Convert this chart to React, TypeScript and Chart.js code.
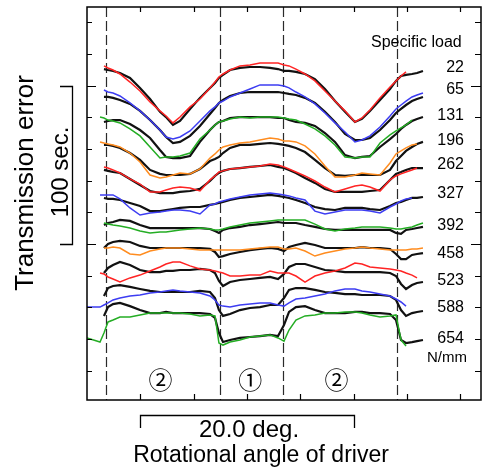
import React, { useEffect, useRef } from "react";
import { Chart, registerables } from "chart.js";

Chart.register(...registerables);

// ---------- data ----------
// rotational angle of driver (deg), common sampling grid
const angleDeg = [0.0, 1.22, 1.59, 1.97, 2.44, 3.09, 4.03, 4.97, 5.91, 6.84, 7.41, 8.06, 8.72, 9.66, 10.59, 11.53, 12.0, 12.37, 12.75, 13.41, 14.34, 15.28, 16.22, 17.16, 17.91, 18.47, 18.94, 19.59, 20.44, 21.37, 22.31, 23.25, 24.19, 25.12, 25.78, 26.53, 27.47, 28.41, 28.97, 29.44, 29.91, 30.47, 30.94, 31.5];

const specificLoads = ["22", "65", "131", "196", "262", "327", "392", "458", "523", "588", "654"];

// measured transmission error (sec, offset per load as plotted)
const measured22 = [null, null, 210.5, 209.9, 209.3, 208.0, 204.9, 198.6, 191.6, 183.5, 180.2, 175.2, 177.7, 185.3, 192.3, 198.6, 201.7, 204.9, 206.8, 209.9, 211.2, 211.8, 211.8, 211.2, 210.5, 209.3, 209.3, 208.7, 207.4, 204.2, 197.9, 190.3, 183.5, 177.1, 179.0, 184.1, 191.0, 197.9, 203.0, 206.1, 206.8, 207.4, 208.0, 209.3];
const measured65 = [null, null, 192.9, 192.9, 192.3, 191.0, 188.5, 184.1, 178.3, 172.0, 167.6, 163.8, 164.5, 168.3, 174.6, 182.1, 185.9, 189.1, 191.0, 193.5, 195.4, 196.0, 196.0, 196.0, 196.0, 195.4, 194.8, 194.1, 192.3, 189.1, 183.5, 177.1, 169.5, 165.7, 165.7, 167.0, 172.0, 178.3, 182.8, 185.3, 187.8, 190.3, 191.6, 192.9];
const measured131 = [null, null, 177.1, 177.7, 178.3, 178.3, 175.8, 172.0, 167.0, 159.4, 155.0, 154.3, 154.3, 155.6, 164.5, 172.0, 175.2, 177.1, 177.7, 179.6, 180.2, 180.2, 180.2, 180.2, 179.6, 179.6, 178.3, 177.1, 176.5, 174.6, 170.1, 164.5, 156.2, 154.3, 155.0, 155.6, 161.3, 166.3, 169.5, 172.7, 175.2, 177.7, 179.0, 180.2];
const measured196 = [null, null, 162.6, 162.6, 162.0, 160.7, 157.5, 153.1, 146.8, 144.3, 143.6, 143.6, 143.6, 144.3, 147.4, 152.4, 153.7, 155.0, 157.5, 160.7, 162.6, 162.6, 163.2, 163.8, 163.2, 162.6, 162.0, 160.7, 158.1, 153.1, 148.0, 143.6, 143.0, 143.6, 143.6, 143.6, 143.6, 146.8, 152.4, 155.6, 158.8, 161.3, 163.2, 164.5];
const measured262 = [null, null, 146.8, 146.2, 145.5, 144.9, 141.1, 137.3, 133.5, 132.2, 132.2, 132.2, 132.9, 133.5, 134.8, 139.8, 143.0, 144.9, 146.2, 147.4, 148.0, 148.7, 149.3, 149.9, 148.7, 148.0, 146.8, 144.9, 141.7, 138.6, 134.8, 132.9, 132.9, 132.9, 132.9, 133.5, 134.1, 140.5, 144.3, 145.5, 146.8, 148.0, 148.0, 148.0];
const measured327 = [null, null, 129.1, 128.5, 128.5, 127.8, 125.9, 124.0, 120.8, 120.8, 121.5, 122.1, 122.8, 123.4, 123.4, 124.7, 125.3, 125.9, 126.6, 127.8, 129.1, 129.7, 130.4, 131.0, 130.4, 129.7, 129.1, 127.8, 125.9, 123.4, 122.1, 121.5, 122.8, 122.8, 122.8, 122.1, 121.5, 124.0, 125.9, 126.6, 127.8, 129.1, 129.1, 129.7];
const measured392 = [null, null, 112.0, 113.3, 113.9, 115.2, 114.6, 112.0, 110.1, 110.1, 110.1, 110.1, 110.1, 110.1, 110.1, 109.5, 108.2, 107.0, 108.9, 110.1, 110.8, 112.0, 112.6, 113.3, 113.9, 113.3, 113.3, 113.3, 112.0, 110.8, 109.5, 108.9, 108.9, 108.9, 108.9, 108.9, 108.9, 108.9, 107.0, 106.4, 108.9, 109.5, 110.1, 110.8];
const measured458 = [null, null, 97.5, 100.1, 101.3, 102.0, 101.3, 98.8, 97.5, 97.5, 97.5, 97.5, 97.5, 97.5, 97.5, 96.9, 95.0, 91.8, 92.4, 93.7, 95.0, 96.2, 96.9, 97.5, 96.9, 95.6, 98.1, 99.4, 100.7, 99.4, 97.5, 97.5, 97.5, 97.5, 98.1, 97.5, 97.5, 96.9, 93.7, 90.5, 90.5, 93.1, 93.7, 94.3];
const measured523 = [null, null, 81.7, 84.9, 86.8, 88.7, 86.8, 83.6, 82.3, 82.3, 83.0, 83.0, 83.6, 83.6, 84.3, 83.6, 81.7, 76.7, 73.5, 76.0, 77.3, 77.9, 78.6, 79.2, 77.9, 81.1, 85.5, 87.4, 87.4, 85.5, 83.6, 83.0, 82.3, 82.3, 82.3, 82.3, 82.3, 81.7, 79.8, 74.8, 71.6, 74.1, 75.4, 76.0];
const measured588 = [null, null, 67.2, 72.2, 73.5, 74.1, 72.9, 71.6, 70.4, 69.7, 69.7, 69.7, 69.7, 69.7, 70.4, 69.7, 65.9, 58.3, 54.6, 55.8, 58.3, 59.6, 60.2, 61.5, 61.5, 65.9, 71.0, 72.2, 72.2, 71.0, 69.7, 69.1, 68.4, 68.4, 67.8, 67.8, 67.8, 67.2, 64.7, 58.3, 54.6, 56.4, 57.1, 57.7];
const measured654 = [null, null, 54.6, 60.2, 62.1, 62.8, 60.8, 58.3, 56.4, 56.4, 57.1, 56.4, 56.4, 56.4, 56.4, 55.8, 53.3, 43.8, 38.1, 39.4, 40.7, 41.3, 41.9, 42.6, 41.9, 48.9, 57.1, 60.2, 60.8, 58.3, 56.4, 56.4, 56.4, 57.1, 57.1, 56.4, 56.4, 55.8, 52.0, 39.4, 37.5, 38.1, 38.7, 39.4];

// calculated transmission error
const calculated22 = [null, null, 212.5, 211.2, 209.9, 207.4, 202.3, 196.7, 189.7, 184.1, 180.9, 176.5, 180.2, 186.6, 191.6, 198.6, 202.3, 205.5, 207.4, 209.9, 212.5, 213.1, 214.3, 214.3, 214.3, 213.1, 212.5, 210.5, 207.4, 203.0, 196.7, 190.3, 184.1, 177.1, 179.6, 184.7, 192.3, 199.2, 203.0, 206.1, 208.7, null, null, null];
const calculated65 = [null, null, 197.3, 196.0, 195.4, 193.5, 189.1, 184.1, 178.3, 172.0, 167.6, 166.3, 167.6, 171.4, 177.7, 184.1, 186.6, 189.1, 190.3, 192.9, 195.4, 197.9, 200.5, 200.5, 200.5, 199.8, 198.6, 196.0, 192.9, 188.5, 182.8, 176.5, 170.8, 164.5, 165.7, 168.3, 173.9, 180.9, 185.3, 187.8, 190.3, 192.9, 194.1, 195.4];
const calculated131 = [null, 180.2, 179.6, 178.3, 177.7, 176.5, 172.7, 168.3, 161.3, 154.3, 155.0, 155.0, 155.6, 157.5, 166.3, 172.0, 175.2, 177.1, 177.7, 179.0, 180.2, 179.6, 180.2, 180.2, 180.2, 179.6, 179.0, 178.3, 175.8, 172.7, 168.3, 162.6, 155.0, 154.3, 155.0, 155.0, 163.8, 168.9, 171.4, 173.3, 175.2, 178.3, null, null];
const calculated196 = [null, 164.5, 163.8, 163.2, 162.6, 161.3, 157.5, 151.8, 143.6, 141.7, 142.3, 143.6, 144.9, 144.3, 147.4, 154.3, 156.9, 159.4, 161.3, 162.6, 163.8, 164.5, 165.7, 167.0, 166.3, 165.1, 165.1, 164.5, 162.0, 156.9, 149.3, 142.3, 142.3, 143.6, 144.9, 144.3, 143.6, 151.2, 156.9, 158.8, 160.7, 162.6, 163.2, null];
const calculated262 = [null, null, 148.7, 148.0, 146.8, 144.9, 141.1, 137.9, 132.9, 132.9, 134.1, 135.4, 136.0, 135.4, 133.5, 140.5, 143.0, 145.5, 146.2, 147.4, 148.0, 148.7, 149.3, 150.6, 149.9, 148.7, 147.4, 145.5, 143.0, 139.8, 136.0, 132.9, 134.8, 136.7, 137.3, 136.0, 133.5, 140.5, 143.0, 144.3, 145.5, 146.8, 148.0, null];
const calculated327 = [null, 131.0, 131.0, 131.0, 131.0, 128.5, 122.8, 118.3, 119.6, 120.2, 120.8, 121.5, 121.5, 120.8, 119.0, 124.7, 125.3, 126.6, 127.2, 128.5, 129.7, 131.0, 131.6, 132.2, 131.6, 131.0, 130.4, 129.1, 127.8, 120.8, 119.0, 120.2, 121.5, 121.5, 121.5, 120.8, 119.6, 123.4, 125.3, 127.2, 128.5, 129.1, null, null];
const calculated392 = [null, null, 113.3, 112.6, 112.0, 111.4, 110.1, 108.2, 107.0, 107.6, 107.6, 108.2, 108.9, 109.5, 110.1, 109.5, 108.9, 108.9, 109.5, 110.8, 112.0, 113.3, 113.9, 114.6, 115.2, 115.2, 115.2, 115.2, 115.2, 112.6, 109.5, 108.2, 109.5, 110.1, 110.8, 110.8, 110.8, 110.1, 109.5, 109.5, 110.1, 110.8, 112.0, 113.3];
const calculated458 = [null, null, 97.5, 97.5, 98.1, 97.5, 93.7, 93.1, 95.6, 96.9, 97.5, 97.5, 97.5, 96.9, 96.2, 96.2, 96.2, 96.2, 96.2, 96.2, 96.2, 96.9, 97.5, 98.1, 98.1, 96.9, 96.9, 97.5, 95.6, 92.4, 94.3, 95.6, 96.9, 97.5, 98.1, 97.5, 96.9, 96.2, 96.2, 96.2, 96.2, 96.9, 96.9, 97.5];
const calculated523 = [null, 81.7, 81.1, 79.2, 77.9, 76.0, 78.6, 80.4, 83.0, 85.5, 87.4, 88.7, 88.7, 86.2, 84.3, 83.6, 83.0, 82.3, 81.7, 79.8, 79.8, 80.4, 80.4, 83.0, 81.7, 81.7, 81.7, 79.8, 76.0, 79.8, 81.7, 83.0, 84.9, 88.0, 87.4, 85.5, 84.9, 84.3, 83.6, 83.0, 81.7, 80.4, 78.6, null];
const calculated588 = [60.2, 60.2, 61.5, 62.8, 64.7, 65.9, 67.2, 67.8, 69.1, 69.7, 70.4, 71.0, 70.4, 69.7, 69.1, 67.2, 64.7, 61.5, 60.8, 60.2, 61.5, 62.1, 62.8, 62.8, 61.5, 60.8, 62.8, 65.3, 65.9, 67.2, 68.4, 70.4, 71.6, 71.6, 70.4, 69.7, 68.4, 67.2, 65.3, 63.4, 60.8, null, null, null];
const calculated654 = [40.7, 38.1, 43.8, 50.8, 52.0, 53.9, 53.9, 55.2, 56.4, 56.4, 56.4, 56.4, 56.4, 55.8, 54.6, 55.2, 54.6, 37.5, 36.2, 38.1, 39.4, 41.3, 41.9, 42.6, 40.7, 38.7, 45.7, 52.0, 54.6, 55.2, 56.4, 56.4, 57.1, 57.1, 56.4, 55.2, 53.9, 54.6, 55.2, 39.4, 35.6, null, null, null];

const measuredSeries = [measured22, measured65, measured131, measured196, measured262, measured327, measured392, measured458, measured523, measured588, measured654];
const calculatedSeries = [calculated22, calculated65, calculated131, calculated196, calculated262, calculated327, calculated392, calculated458, calculated523, calculated588, calculated654];

// contact zone boundaries (deg) and zone marks
const contactBoundaryDeg = [1.8, 12.5, 18.4, 29.1];
const zoneMarks = ["②", "①", "②"];
const zoneCenterDeg = [6.9, 15.3, 23.4];

// axis ticks (no labels in the original)
const xTickDeg = [5, 10, 15, 20, 25, 30, 35];
const yTickSec = [20, 40, 60, 80, 100, 120, 140, 160, 180, 200, 220, 240];

// ---------- styles / layout ----------
const CALC_COLORS = ["#ff2424", "#3d3df2", "#24ad24", "#ff8c1f"];
const FONT = "'Liberation Sans', Arial, sans-serif";
const LOAD_LABEL_Y = [68, 90, 116, 141, 165, 194, 226, 254, 281, 308, 339];

function toPoints(values: (number | null)[]) {
  const pts: { x: number; y: number }[] = [];
  values.forEach((v, i) => {
    if (v !== null && v !== undefined) pts.push({ x: angleDeg[i], y: v });
  });
  return pts;
}

const decorPlugin = {
  id: "decor",
  beforeDatasetsDraw(chart: any) {
    const { ctx, chartArea: a, scales } = chart;
    const x = scales.x;
    ctx.save();
    ctx.strokeStyle = "#2a2a2a";
    ctx.lineWidth = 1.2;
    ctx.setLineDash([10, 4]);
    for (const d of contactBoundaryDeg) {
      const px = Math.round(x.getPixelForValue(d)) + 0.5;
      ctx.beginPath();
      ctx.moveTo(px, a.top);
      ctx.lineTo(px, a.bottom);
      ctx.stroke();
    }
    ctx.restore();
  },
  afterDraw(chart: any) {
    const { ctx, chartArea: a, scales } = chart;
    const x = scales.x;
    const y = scales.y;
    ctx.save();
    ctx.setLineDash([]);
    ctx.strokeStyle = "#000";
    ctx.fillStyle = "#000";
    // frame
    ctx.lineWidth = 1.5;
    ctx.strokeRect(a.left, a.top, a.right - a.left, a.bottom - a.top);
    // x ticks (inward)
    ctx.lineWidth = 1.2;
    for (const d of xTickDeg) {
      const px = Math.round(x.getPixelForValue(d)) + 0.5;
      ctx.beginPath();
      ctx.moveTo(px, a.bottom);
      ctx.lineTo(px, a.bottom - 6);
      ctx.moveTo(px, a.top);
      ctx.lineTo(px, a.top + 5);
      ctx.stroke();
    }
    // y ticks (inward both sides)
    for (const v of yTickSec) {
      const py = Math.round(y.getPixelForValue(v)) + 0.5;
      const len = v % 100 === 0 ? 9 : 5;
      ctx.beginPath();
      ctx.moveTo(a.left, py);
      ctx.lineTo(a.left + len, py);
      ctx.moveTo(a.right, py);
      ctx.lineTo(a.right - (len + 1), py);
      ctx.stroke();
    }

    // 100 sec scale bracket
    const yTop = Math.round(y.getPixelForValue(200)) + 0.5;
    const yBot = Math.round(y.getPixelForValue(100)) + 0.5;
    ctx.lineWidth = 1.3;
    ctx.beginPath();
    ctx.moveTo(60, yTop);
    ctx.lineTo(72.5, yTop);
    ctx.lineTo(72.5, yBot);
    ctx.lineTo(60, yBot);
    ctx.stroke();

    // 20 deg bracket
    const xl = Math.round(x.getPixelForValue(5)) + 0.5;
    const xr = Math.round(x.getPixelForValue(25)) + 0.5;
    ctx.beginPath();
    ctx.moveTo(xl, 428);
    ctx.lineTo(xl, 415.5);
    ctx.lineTo(xr, 415.5);
    ctx.lineTo(xr, 428);
    ctx.stroke();

    // rotated texts
    ctx.textBaseline = "alphabetic";
    ctx.textAlign = "center";
    ctx.save();
    ctx.translate(33, 183);
    ctx.rotate(-Math.PI / 2);
    ctx.font = `26px ${FONT}`;
    ctx.fillText("Transmission error", 0, 0);
    ctx.restore();
    ctx.save();
    ctx.translate(68, 172);
    ctx.rotate(-Math.PI / 2);
    ctx.font = `24px ${FONT}`;
    ctx.fillText("100 sec.", 0, 0);
    ctx.restore();

    // x annotations
    ctx.font = `24px ${FONT}`;
    ctx.fillText("20.0 deg.", 249, 437);
    ctx.font = `23px ${FONT}`;
    ctx.fillText("Rotational angle of driver", 261, 462);

    // zone marks
    ctx.font = `24px 'Noto Sans CJK JP', 'DejaVu Sans', sans-serif`;
    ctx.textBaseline = "middle";
    zoneMarks.forEach((m, i) => {
      ctx.fillText(m, x.getPixelForValue(zoneCenterDeg[i]), 380);
    });

    // load labels
    ctx.textAlign = "left";
    ctx.font = `16px ${FONT}`;
    ctx.fillText("Specific load", 371, 43);
    ctx.textAlign = "right";
    ctx.font = `16px ${FONT}`;
    specificLoads.forEach((s, i) => {
      ctx.fillText(s, 464, LOAD_LABEL_Y[i]);
    });
    ctx.font = `15px ${FONT}`;
    ctx.fillText("N/mm", 467, 358);
    ctx.restore();
  },
};

export default function App() {
  const canvasRef = useRef<HTMLCanvasElement | null>(null);

  useEffect(() => {
    if (!canvasRef.current) return;
    const datasets: any[] = [];
    calculatedSeries.forEach((s, i) => {
      datasets.push({
        label: `calc ${specificLoads[i]}`,
        data: toPoints(s),
        borderColor: CALC_COLORS[i % 4],
        backgroundColor: CALC_COLORS[i % 4],
        borderWidth: 1.5,
        pointRadius: 0,
        tension: 0,
        order: 0,
      });
    });
    measuredSeries.forEach((s, i) => {
      datasets.push({
        label: `meas ${specificLoads[i]}`,
        data: toPoints(s),
        borderColor: "#111",
        backgroundColor: "#111",
        borderWidth: 2.2,
        pointRadius: 0,
        tension: 0,
        order: 1,
      });
    });

    const chart = new Chart(canvasRef.current, {
      type: "line",
      data: { datasets },
      options: {
        animation: false,
        responsive: false,
        maintainAspectRatio: false,
        devicePixelRatio: 1,
        layout: { padding: { left: 87, right: 2, top: 7, bottom: 68 } },
        plugins: { legend: { display: false }, tooltip: { enabled: false } },
        scales: {
          x: { type: "linear", min: 0, max: 36.94, display: false },
          y: { type: "linear", min: 1.5, max: 249.7, display: false },
        },
      },
      plugins: [decorPlugin],
    });
    return () => chart.destroy();
  }, []);

  return (
    <div style={{ position: "fixed", left: 0, top: 0, width: 483, height: 468, background: "#fff" }}>
      <canvas ref={canvasRef} width={483} height={468} style={{ display: "block" }} />
    </div>
  );
}
